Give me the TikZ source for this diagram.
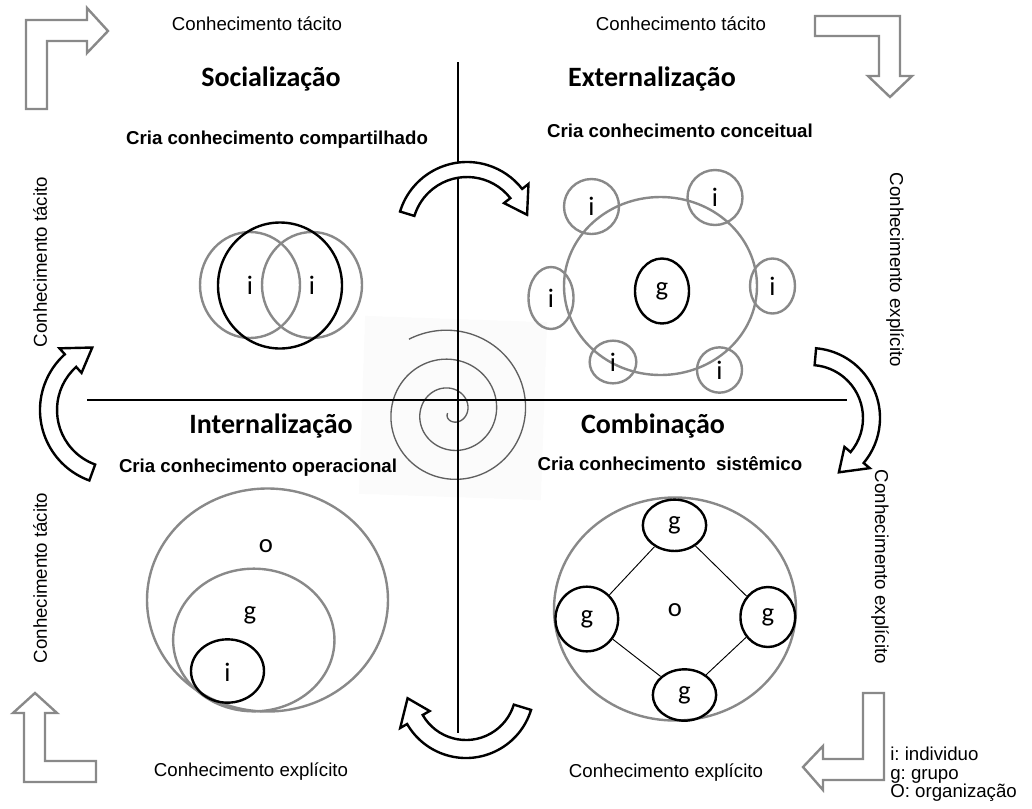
\documentclass[tikz,border=0pt]{standalone}
\usepackage{fontspec}
\setmainfont{Liberation Sans}
\newfontfamily\carlito{Carlito}
\usetikzlibrary{shapes.geometric, positioning, calc}
\definecolor{ringgray}{RGB}{137,137,137}
\definecolor{spiralgray}{RGB}{95,95,95}
\newcommand{\letters}{\carlito\fontsize{20}{23}\selectfont}

\begin{document}
\begin{tikzpicture}[x=0.75pt, y=-0.75pt,
  ring/.style={ellipse, draw=ringgray, line width=1.8pt, inner sep=0pt, font=\letters},
  bring/.style={ellipse, draw=black, line width=1.8pt, inner sep=0pt, font=\letters},
  letter/.style={font=\letters, inner sep=0pt},
  quadtitle/.style={font=\carlito\bfseries\fontsize{21}{25}\selectfont, anchor=base, inner sep=0pt},
  claim/.style={font=\bfseries\fontsize{14}{17}\selectfont},
  flow/.style={font=\fontsize{14}{17}\selectfont},
  cornerarrow/.style={draw=ringgray, fill=white, line width=1.8pt, line join=miter},
  bendarrow/.style={draw=black, fill=white, line width=1.8pt, line join=miter},
  axisline/.style={draw=black, line width=1pt}
]
  \useasboundingbox (0,0) rectangle (1032,808);

  \fill[gray!3, rotate around={-2:(453,408)}] (362,319) rectangle (544,497);
  \draw[spiralgray, line width=1pt] plot[domain=0:1000, samples=320, smooth]
    ({451+(3.5+0.0806*\x)*cos(1240-\x)}, {412+(3.5+0.0806*\x)*sin(1240-\x)});

  \coordinate (vtop) at (458,62);
  \coordinate (vbot) at (458,733);
  \coordinate (hleft) at (87,400);
  \coordinate (hright) at (847,400);
  \draw[axisline] (vtop) -- (vbot);
  \draw[axisline] (hleft) -- (hright);

  \node[flow] (tacitTopL) at (257,24) {Conhecimento tácito};
  \node[flow] (tacitTopR) at (681,24) {Conhecimento tácito};
  \node[flow] (explBotL) at (251,772) {Conhecimento explícito};
  \node[flow] (explBotR) at (666,773) {Conhecimento explícito};
  \node[flow, rotate=90] (tacitSideU) at (40,262) {Conhecimento tácito};
  \node[flow, rotate=90] (tacitSideD) at (40,578) {Conhecimento tácito};
  \node[flow, rotate=-90] (explSideU) at (895,270) {Conhecimento explícito};
  \node[flow, rotate=-90] (explSideD) at (880,567) {Conhecimento explícito};

  \node[quadtitle] (soc) at (271,86) {Socialização};
  \node[quadtitle] (ext) at (652,86) {Externalização};
  \node[quadtitle] (int) at (271,433) {Internalização};
  \node[quadtitle] (comb) at (653,433) {Combinação};
  \node[claim] (socClaim) at (277,140) {Cria conhecimento compartilhado};
  \node[claim] (extClaim) at (680,131) {Cria conhecimento conceitual};
  \node[claim] (intClaim) at (258,468) {Cria conhecimento operacional};
  \node[claim] (combClaim) at (670,464) {Cria conhecimento\ \ sistêmico};

  \node[ring, minimum width=75pt, minimum height=79.5pt] (socI1) at (250,285) {i};
  \node[ring, minimum width=75pt, minimum height=79.5pt] (socI2) at (312,285) {i};
  \node[bring, minimum width=93pt, minimum height=94.5pt] (socG) at (280,285.5) {};

  \node[ring, minimum width=144.75pt, minimum height=133.5pt] (extG) at (660.5,286) {};
  \node[bring, minimum width=40.5pt, minimum height=48.75pt] (extGin) at (662,291) {g};
  \node[ring, minimum width=33.75pt, minimum height=46.5pt] (extI1) at (551,298) {i};
  \node[ring, minimum width=33.75pt, minimum height=41.25pt] (extI2) at (772.5,286) {i};
  \node[ring, minimum width=35pt, minimum height=32pt] (extI3) at (613,362) {i};
  \node[ring, minimum width=33.75pt, minimum height=34pt] (extI4) at (719.5,370) {i};
  \node[ring, minimum width=41.25pt, minimum height=41.25pt] (extI5) at (591.5,206.5) {i};
  \node[ring, minimum width=41.25pt, minimum height=41.25pt] (extI6) at (715,197.5) {i};

  \node[ring, minimum width=180.75pt, minimum height=167.25pt] (intO) at (267.5,600) {};
  \node[ring, minimum width=121pt, minimum height=107pt] (intG) at (253.8,640) {};
  \node[bring, minimum width=54.75pt, minimum height=47.5pt] (intI) at (227.5,671) {};
  \node[letter] (intOl) at (266,546.5) {o};
  \node[letter] (intGl) at (250,615) {g};
  \node[letter] (intIl) at (227.4,672.5) {i};

  \node[ring, minimum width=181.5pt, minimum height=167.25pt] (combO) at (675,609) {};
  \node[letter] (combOl) at (675,610) {o};
  \node[bring, minimum width=47.5pt, minimum height=38.5pt] (combTop) at (674.5,525.3) {g};
  \node[bring, minimum width=47pt, minimum height=48.5pt] (combLeft) at (586.8,619) {g};
  \node[bring, minimum width=41pt, minimum height=45pt] (combRight) at (767.8,617) {g};
  \node[bring, minimum width=47.5pt, minimum height=38.5pt] (combBot) at (684.5,695) {g};
  \draw[line width=0.7pt] (combTop) -- (combLeft);
  \draw[line width=0.7pt] (combTop) -- (combRight);
  \draw[line width=0.7pt] (combBot) -- (combLeft);
  \draw[line width=0.7pt] (combBot) -- (combRight);

  \draw[cornerarrow] (26,109) -- (26,20) -- (87,20) -- (87,8) -- (108,31) -- (87,53) -- (87,41) -- (47,41) -- (47,109) -- cycle;
  \draw[cornerarrow] (815,16) -- (900,16) -- (900,76) -- (912,76) -- (890,97) -- (868,76) -- (879,76) -- (879,36) -- (815,36) -- cycle;
  \draw[cornerarrow] (24,782) -- (24,713) -- (13,713) -- (35,693) -- (57,713) -- (45,713) -- (45,761) -- (96,761) -- (96,782) -- cycle;
  \draw[cornerarrow] (863,693) -- (884,693) -- (884,780) -- (823,780) -- (823,790) -- (803,767) -- (823,746) -- (823,759) -- (863,759) -- cycle;

  \coordinate (hubTop) at (467,232);
  \coordinate (hubRight) at (810,418);
  \coordinate (hubBot) at (466,690);
  \coordinate (hubLeft) at (115,410);
  \draw[bendarrow] ($(hubTop)+(197:70)$) arc[start angle=197, end angle=322, radius=70]
    -- ($(hubTop)+(322:78)$) -- ($(hubTop)+(344:62.5)$) -- ($(hubTop)+(322:47)$) -- ($(hubTop)+(322:55)$)
    arc[start angle=322, end angle=197, radius=55] -- cycle;
  \draw[bendarrow] ($(hubRight)+(-85:70)$) arc[start angle=-85, end angle=40, radius=70]
    -- ($(hubRight)+(40:78)$) -- ($(hubRight)+(62:61.5)$) -- ($(hubRight)+(40:45)$) -- ($(hubRight)+(40:53)$)
    arc[start angle=40, end angle=-85, radius=53] -- cycle;
  \draw[bendarrow] ($(hubBot)+(17:68)$) arc[start angle=17, end angle=150, radius=68]
    -- ($(hubBot)+(150:76)$) -- ($(hubBot)+(172:59)$) -- ($(hubBot)+(150:42)$) -- ($(hubBot)+(150:50)$)
    arc[start angle=150, end angle=17, radius=50] -- cycle;
  \draw[bendarrow] ($(hubLeft)+(110:75)$) arc[start angle=110, end angle=228, radius=75]
    -- ($(hubLeft)+(228:83)$) -- ($(hubLeft)+(250:66.5)$) -- ($(hubLeft)+(228:50)$) -- ($(hubLeft)+(228:58)$)
    arc[start angle=228, end angle=110, radius=58] -- cycle;

  \node[font=\fontsize{14}{13.9}\selectfont, align=left, anchor=north west, inner sep=0pt] (legend) at (890,747)
    {i:\ individuo\\g:\ grupo\\O:\ organização};
\end{tikzpicture}
\end{document}
